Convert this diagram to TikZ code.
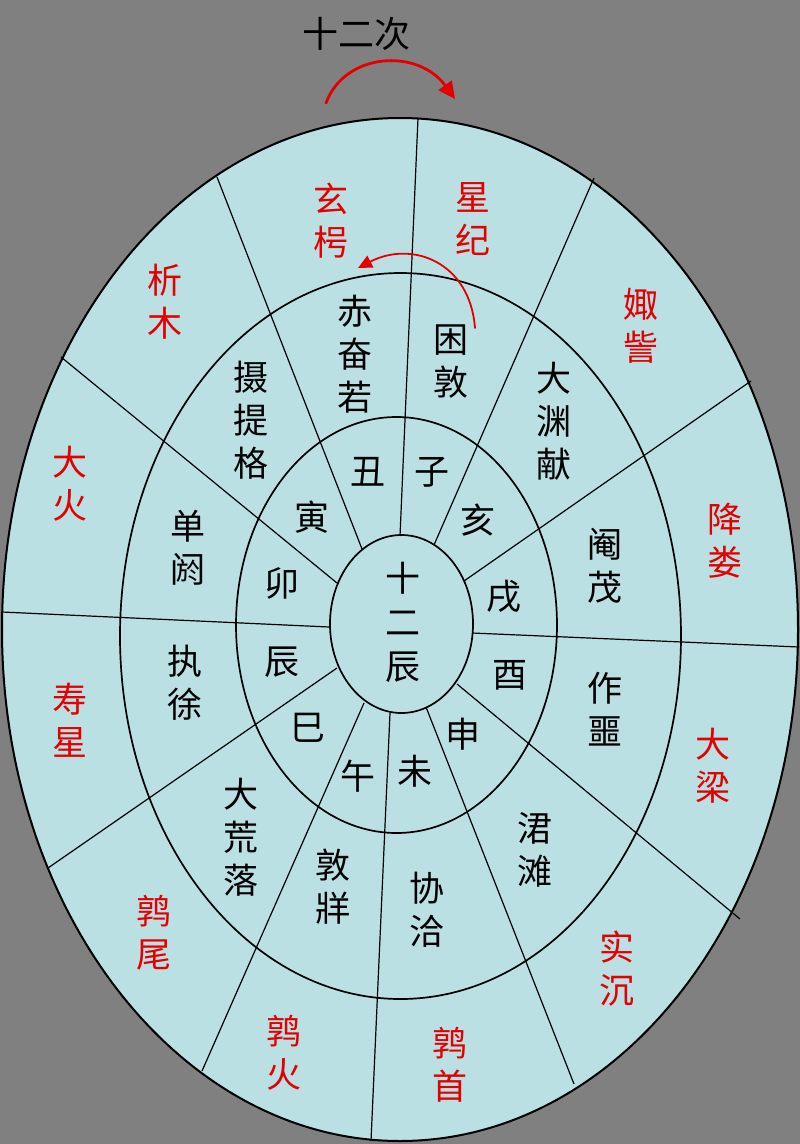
\documentclass[tikz,border=0pt]{standalone}
\usepackage{fontspec}
\newfontfamily\cjk{Noto Sans CJK SC}
\usetikzlibrary{arrows.meta}
\definecolor{bgc}{RGB}{128,128,128}
\definecolor{fillc}{RGB}{187,224,228}
\definecolor{redc}{RGB}{228,0,0}
\begin{document}
\begin{tikzpicture}[x=1pt,y=-1pt,
  blk/.style={font=\cjk\fontsize{35}{43}\selectfont, align=center, inner sep=0pt, text=black},
  rd/.style={blk, text=redc},
  ttl/.style={font=\cjk\fontsize{36}{43}\selectfont, inner sep=0pt, text=black},
  ring/.style={draw=black, line width=1.7pt},
  spoke/.style={draw=black, line width=1.2pt},
  redarrow/.style={draw=redc, line cap=round}
]
\fill[bgc] (0,0) rectangle (800,1144);
\useasboundingbox (0,0) rectangle (800,1144);

% ellipses
\fill[fillc] (400,629.5) ellipse [x radius=398pt, y radius=511.5pt];
\draw[ring, line width=2pt] (400,629.5) ellipse [x radius=398pt, y radius=511.5pt];
\draw[ring] (400.5,636) ellipse [x radius=280.5pt, y radius=363pt];
\draw[ring] (396.5,625) ellipse [x radius=160.5pt, y radius=208pt];
\draw[ring] (401.5,624) ellipse [x radius=71.5pt, y radius=89pt];

% spoke end points
\coordinate (o1) at (418,118);   \coordinate (i1) at (400,536);
\coordinate (o2) at (217,177);   \coordinate (i2) at (362,549);
\coordinate (o3) at (61,357);    \coordinate (i3) at (337,583);
\coordinate (o4) at (2,612);     \coordinate (i4) at (329,627);
\coordinate (o5) at (48,868);    \coordinate (i5) at (337,668);
\coordinate (o6) at (202,1071);  \coordinate (i6) at (364,703);
\coordinate (o7) at (371,1141);  \coordinate (i7) at (390,713);
\coordinate (o8) at (574,1084);  \coordinate (i8) at (426,707);
\coordinate (o9) at (740,919);   \coordinate (i9) at (457,684);
\coordinate (o10) at (799,647);  \coordinate (i10) at (472,633);
\coordinate (o11) at (751,381);  \coordinate (i11) at (464,581);
\coordinate (o12) at (594,178);  \coordinate (i12) at (434,545);
\foreach \k in {1,...,12} {\draw[spoke] (o\k) -- (i\k);}

% title and arrows
\node[ttl] (title) at (356,34) {十二次};
\coordinate (a1s) at (326,103);
\coordinate (a1e) at (455,99);
\draw[redarrow, line width=2.8pt, -{Triangle[length=17pt,width=16pt]}]
  (a1s) .. controls (345,52) and (418,48) .. (a1e);
\coordinate (a2s) at (475,328);
\coordinate (a2e) at (358,268);
\draw[redarrow, line width=1.8pt, -{Triangle[length=14pt,width=13pt]}]
  (a2s) .. controls (470,262) and (412,240) .. (a2e);

% outer ring (twelve ci)
\node[rd] (xuanxiao) at (331,221) {玄\\枵};
\node[rd] (xingji)   at (473,219) {星\\纪};
\node[rd] (ximu)     at (165,302) {析\\木};
\node[rd] (juzi)     at (641,326) {娵\\訾};
\node[rd] (dahuo)    at (70,484)  {大\\火};
\node[rd] (jianglou) at (725,541) {降\\娄};
\node[rd] (shouxing) at (70,720)  {寿\\星};
\node[rd] (daliang)  at (713,766) {大\\梁};
\node[rd] (chunwei)  at (154,933) {鹑\\尾};
\node[rd] (shichen)  at (617,969) {实\\沉};
\node[rd] (chunhuo)  at (284,1053) {鹑\\火};
\node[rd] (chunshou) at (450,1065) {鹑\\首};

% middle ring
\node[blk] (chifenruo) at (355,354) {赤\\奋\\若};
\node[blk] (kundun)    at (451,362) {困\\敦};
\node[blk] (shetige)   at (251,420) {摄\\提\\格};
\node[blk] (dayuanxian) at (554,421) {大\\渊\\献};
\node[blk] (danyan)    at (188,548) {单\\阏};
\node[blk] (yanmao)    at (605,566) {阉\\茂};
\node[blk] (zhixu)     at (185,683) {执\\徐};
\node[blk] (zuoe)      at (605,709) {作\\噩};
\node[blk] (dahuangluo) at (241,837) {大\\荒\\落};
\node[blk] (tuntan)    at (535,850) {涒\\滩};
\node[blk] (dunzang)   at (333,887) {敦\\牂};
\node[blk] (xieqia)    at (427,910) {协\\洽};

% inner ring (branches)
\node[blk] (chou) at (368,472) {丑};
\node[blk] (zi)   at (432,472) {子};
\node[blk] (yin)  at (312,517) {寅};
\node[blk] (hai)  at (478,520) {亥};
\node[blk] (mao)  at (282,583) {卯};
\node[blk] (xu)   at (504,596) {戌};
\node[blk] (chen) at (282,662) {辰};
\node[blk] (you)  at (510,675) {酉};
\node[blk] (si)   at (308,728) {巳};
\node[blk] (shen) at (463,734) {申};
\node[blk] (wu)   at (358,776) {午};
\node[blk] (wei)  at (415,771) {未};

% centre
\node[blk, font=\cjk\fontsize{35}{44}\selectfont] (center) at (403,622) {十\\二\\辰};
\end{tikzpicture}
\end{document}
